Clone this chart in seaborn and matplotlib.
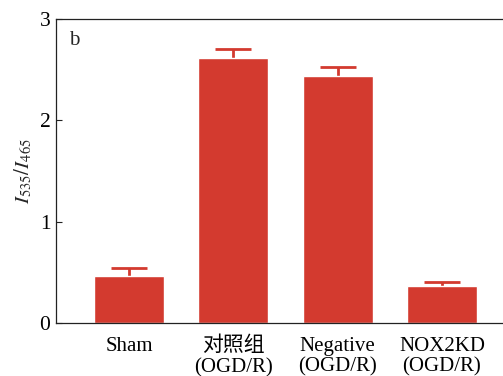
import matplotlib
matplotlib.use("Agg")
import matplotlib.pyplot as plt
import seaborn as sns
import pandas as pd

categories = ["Sham", "对照组\n(OGD/R)", "Negative\n(OGD/R)", "NOX2KD\n(OGD/R)"]
values = [0.467, 2.613, 2.438, 0.365]
errors = [0.073, 0.095, 0.092, 0.040]
yticks = [0, 1, 2, 3]

sns.set_theme(style="ticks")
plt.rcParams['font.family'] = ['Liberation Serif', 'Noto Sans CJK SC']
plt.rcParams['mathtext.fontset'] = 'stix'

df = pd.DataFrame({"group": categories, "value": values})

fig = plt.figure(figsize=(5.03, 3.76), dpi=100)
ax = fig.add_axes([0.1113, 0.141, 0.8887, 0.8085])
color = "#D33A2F"
sns.barplot(data=df, x="group", y="value", color=color, saturation=1,
            width=0.67, errorbar=None, ax=ax, zorder=2)
xs = list(range(len(categories)))
ax.errorbar(xs, values, yerr=errors, fmt="none",
            ecolor=color, elinewidth=2.0, capsize=13, capthick=2.0, zorder=1)

ax.set_xlim(-0.7, 3.586)
ax.set_ylim(0, 3)
ax.set_yticks(yticks)
ax.set_yticklabels([str(t) for t in yticks], fontsize=15.5)
ax.set_xticks(xs)
ax.set_xticklabels(categories, fontsize=15, linespacing=1.1)
ax.tick_params(axis="both", direction="in", length=4, width=0.8, colors="#222222",
               labelcolor="black")
ax.tick_params(axis="x", pad=10)
ax.tick_params(axis="y", pad=4)
ax.set_xlabel("")
ax.set_ylabel("$I_{535}/I_{465}$", fontsize=15, labelpad=4)
for s in ["left", "bottom", "top"]:
    ax.spines[s].set_linewidth(0.9)
    ax.spines[s].set_color("#222222")
ax.spines["right"].set_visible(False)
ax.text(0.03, 0.93, "b", transform=ax.transAxes, fontsize=15, va="center", ha="left")

fig.savefig("out.png", dpi=100)
